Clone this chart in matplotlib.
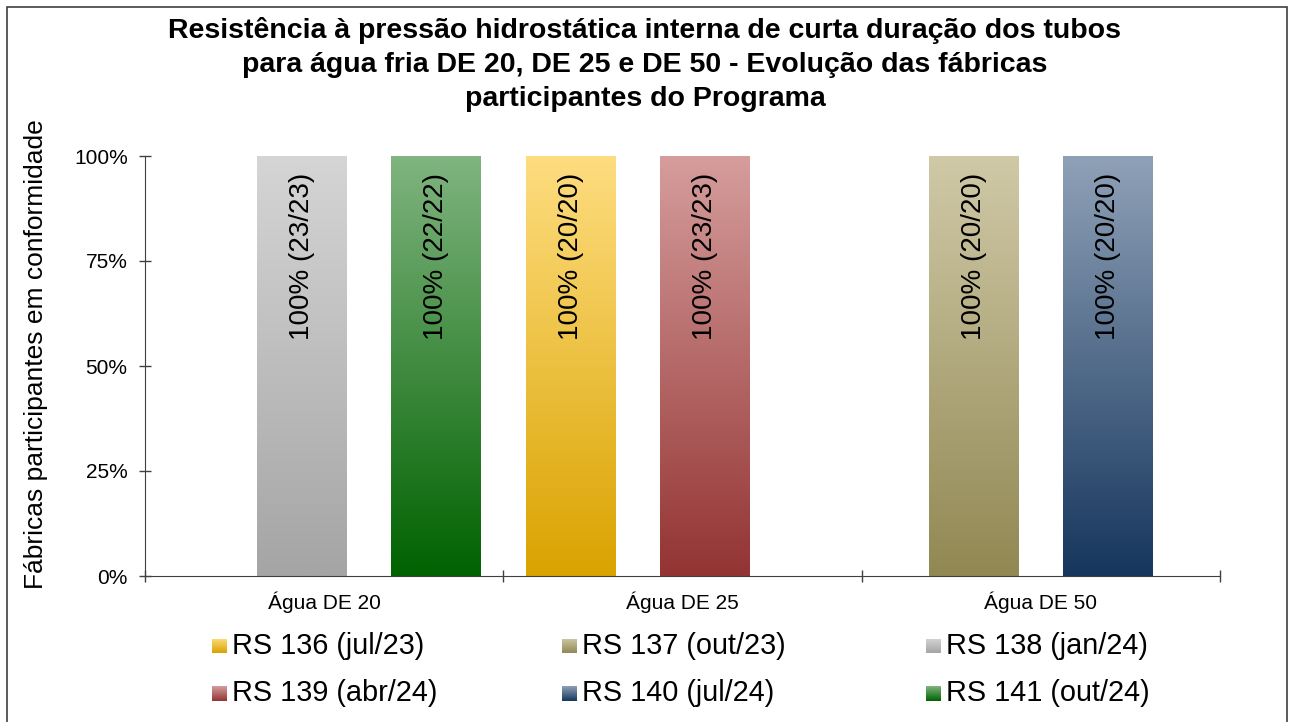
import numpy as np
import matplotlib
matplotlib.use("Agg")
import matplotlib.pyplot as plt
from matplotlib.colors import LinearSegmentedColormap
from matplotlib.patches import Rectangle
from matplotlib.ticker import FixedLocator, NullFormatter, PercentFormatter

plt.rcParams['font.family'] = ['Liberation Sans', 'DejaVu Sans']

# data
categories = ['Água DE 20', 'Água DE 25', 'Água DE 50']
series_names = ['RS 136 (jul/23)', 'RS 137 (out/23)', 'RS 138 (jan/24)',
                'RS 139 (abr/24)', 'RS 140 (jul/24)', 'RS 141 (out/24)']
nan = np.nan
rs136 = [nan, 1.0, nan]
rs137 = [nan, nan, 1.0]
rs138 = [1.0, nan, nan]
rs139 = [nan, 1.0, nan]
rs140 = [nan, nan, 1.0]
rs141 = [1.0, nan, nan]
values = [rs136, rs137, rs138, rs139, rs140, rs141]
# conforming / total factories per series
conform = [20, 20, 23, 23, 20, 22]
total = [20, 20, 23, 23, 20, 22]

# gradient colours (top, bottom)
colors = [('#fedd80', '#daa300'),
          ('#d0c9a7', '#918853'),
          ('#d5d5d5', '#a5a5a5'),
          ('#d59d9c', '#933433'),
          ('#8fa1b7', '#16365d'),
          ('#80b480', '#006200')]

W, H = 1291, 722
fig = plt.figure(figsize=(W / 100, H / 100), dpi=100)
ax = fig.add_axes([145 / W, 1 - 576 / H, 1075 / W, 420 / H])

grad = np.linspace(0, 1, 256).reshape(-1, 1)
n_series = len(series_names)
slot = 0.125
bar_w = 0.25
for i, vals in enumerate(values):
    cmap = LinearSegmentedColormap.from_list('g%d' % i, [colors[i][1], colors[i][0]])
    for c, v in enumerate(vals):
        if np.isnan(v):
            continue
        xc = c + 0.5 + (i - (n_series - 1) / 2) * slot
        ax.imshow(grad, cmap=cmap, origin='lower', aspect='auto',
                  extent=[xc - bar_w / 2, xc + bar_w / 2, 0, v], zorder=2)
        ax.annotate(f"{v * 100:.0f}% ({conform[i]}/{total[i]})", xy=(xc, v),
                    xytext=(0, -12), textcoords='offset points', rotation=90,
                    ha='center', va='top', fontsize=20, color='black', zorder=3)

ax.set_xlim(0, len(categories))
ax.set_ylim(0, 1)
ax.yaxis.set_major_locator(FixedLocator([0, 0.25, 0.5, 0.75, 1.0]))
ax.yaxis.set_major_formatter(PercentFormatter(1.0, decimals=0))
ax.xaxis.set_major_locator(FixedLocator(np.arange(len(categories) + 1)))
ax.xaxis.set_major_formatter(NullFormatter())
ax.set_xticks(np.arange(len(categories)) + 0.5, minor=True)
ax.set_xticklabels(categories, minor=True, fontsize=15)
ax.tick_params(axis='x', which='minor', length=0, pad=11)
ax.tick_params(axis='both', which='major', direction='inout', length=9,
               color='#404040', width=1)
ax.tick_params(axis='y', labelsize=15, pad=8)
for s in ['top', 'right']:
    ax.spines[s].set_visible(False)
for s in ['left', 'bottom']:
    ax.spines[s].set_color('#404040')
ax.set_ylabel('Fábricas participantes em conformidade', fontsize=19)
ax.yaxis.set_label_coords((48 - 145) / 1075, (576 - 354) / 420)

fig.text(645 / W, 1 - 65 / H,
         'Resistência à pressão hidrostática interna de curta duração dos tubos\n'
         'para água fria DE 20, DE 25 e DE 50 - Evolução das fábricas\n'
         'participantes do Programa',
         ha='center', va='center', fontsize=20.5, fontweight='bold', linespacing=1.4)

# legend, 3 columns x 2 rows
col_x = [212, 562, 926]
row_y = [646, 693]
sq = 15
for i, name in enumerate(series_names):
    r, c = divmod(i, 3)
    lax = fig.add_axes([col_x[c] / W, 1 - (row_y[r] + sq / 2) / H, sq / W, sq / H])
    cmap = LinearSegmentedColormap.from_list('l%d' % i, [colors[i][1], colors[i][0]])
    lax.imshow(grad, cmap=cmap, origin='lower', aspect='auto')
    lax.axis('off')
    fig.text((col_x[c] + sq + 5) / W, 1 - row_y[r] / H, name,
             ha='left', va='center', fontsize=20.8)

# chart border
fig.add_artist(Rectangle((7 / W, -0.05), (1287 - 7) / W, 1.05 - 7 / H,
                         transform=fig.transFigure, fill=False,
                         edgecolor='#404040', lw=1.2))

fig.savefig('out.png', dpi=100)
